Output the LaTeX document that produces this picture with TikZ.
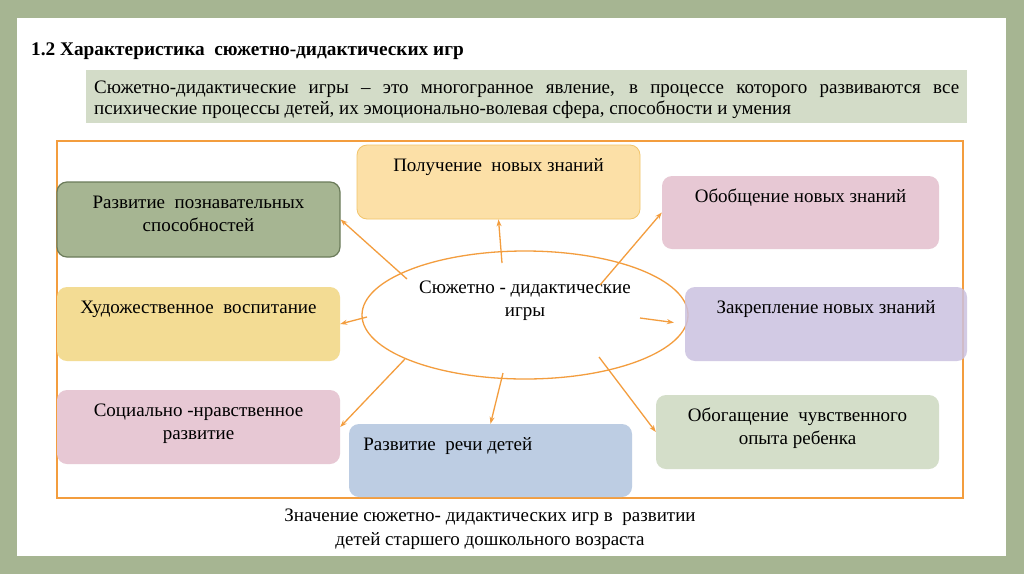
\documentclass[tikz,border=0pt]{standalone}
\usepackage{fontspec}
\setmainfont{Liberation Serif}
\usetikzlibrary{arrows.meta, calc, positioning, shapes.geometric}
\definecolor{Sage}{HTML}{A6B592}
\definecolor{SageDark}{HTML}{6B7B5A}
\definecolor{Mist}{HTML}{D3DCC8}
\definecolor{Tangerine}{HTML}{F39D3E}
\definecolor{Apricot}{HTML}{FCE0A7}
\definecolor{ApricotLine}{HTML}{F2C46A}
\definecolor{Rose}{HTML}{E7C8D4}
\definecolor{Butter}{HTML}{F3DC94}
\definecolor{Lilac}{HTML}{CBC1E0}
\definecolor{Sky}{HTML}{BDCDE3}
\definecolor{Pale}{HTML}{D4DEC9}

\begin{document}
\begin{tikzpicture}[x=1pt, y=-1pt,
    card/.style={rounded corners=10pt, minimum width=283pt, minimum height=74pt, inner sep=0pt},
    cardtext/.style={anchor=base, yshift=-27pt, align=center, font=\fontsize{19}{23}\selectfont},
    twolines/.style={yshift=-23pt},
    spoke/.style={Tangerine, line width=1.3pt, -{Stealth[length=7pt, width=5pt]}}]
    \useasboundingbox (0,0) rectangle (1024,574);
    \fill[Sage] (0,0) rectangle (1024,574);
    \fill[white] (17,18) rectangle (1006,556);

    % heading and introduction
    \node[anchor=base west, inner sep=0pt, font=\bfseries\fontsize{19.3}{22}\selectfont] (title) at (31,55)
        {1.2 Характеристика\ \ сюжетно-дидактических игр};
    \fill[Mist] (86,70) rectangle (967,123);
    \node[anchor=base west, inner sep=0pt, text width=865pt, align=justify,
        font=\fontsize{19}{21}\selectfont] (intro) at (94,93)
        {\hyphenpenalty=10000 Сюжетно-дидактические игры – это многогранное явление, в процессе которого развиваются все\linebreak
        психические процессы детей, их эмоционально-волевая сфера, способности и умения};

    % frame
    \draw[Tangerine, line width=1.2pt] (57,141) rectangle (963,498);

    % centre
    \node[ellipse, draw=Tangerine, line width=1.3pt, minimum width=326pt, minimum height=128pt,
        label={[cardtext, yshift=-39pt]north:{Сюжетно - дидактические\\игры}}] (game) at (525,315) {};

    % outcomes
    \node[card, fill=Apricot, draw=ApricotLine, line width=0.8pt,
        label={[cardtext]north:{Получение\ \ новых знаний}}] (gain) at (498.5,182) {};
    \node[card, fill=Sage, draw=SageDark, line width=1.2pt, minimum height=75pt,
        label={[cardtext, twolines]north:{Развитие\ \ познавательных\\способностей}}] (mind) at (198.5,219.5) {};
    \node[card, fill=Rose, minimum width=277pt, minimum height=73pt,
        label={[cardtext]north:{Обобщение новых знаний}}] (sum) at (800.5,212.5) {};
    \node[card, fill=Butter,
        label={[cardtext]north:{Художественное\ \ воспитание}}] (art) at (198.5,324) {};
    \node[card, fill=Lilac, fill opacity=0.85, text opacity=1, minimum width=282pt,
        label={[cardtext]north:{Закрепление новых знаний}}] (fix) at (826,324) {};
    \node[card, fill=Rose,
        label={[cardtext, twolines]north:{Социально -нравственное\\развитие}}] (moral) at (198.5,427) {};
    \node[card, fill=Sky, minimum height=73pt,
        label={[cardtext, anchor=base west, xshift=11pt]north west:{Развитие\ \ речи детей}}] (speech) at (490.5,460.5) {};
    \node[card, fill=Pale,
        label={[cardtext, twolines]north:{Обогащение\ \ чувственного\\опыта ребенка}}] (sense) at (797.5,432) {};

    % spokes
    \draw[spoke] ($(game)+(-118,-36)$) -- (mind.east);
    \draw[spoke] ($(game)+(-23,-52)$) -- (gain.south);
    \draw[spoke] ($(game)+(75,-30)$) -- (sum.west);
    \draw[spoke] ($(game)+(-158,2)$) -- (art.east);
    \draw[spoke, shorten >=11pt] ($(game)+(115,3)$) -- (fix.west);
    \draw[spoke] ($(game)+(-120,44)$) -- (moral.east);
    \draw[spoke] ($(game)+(-22,58)$) -- (speech.north);
    \draw[spoke] ($(game)+(74,42)$) -- (sense.west);

    % caption
    \node[anchor=base, inner sep=0pt, align=center, font=\fontsize{19}{24}\selectfont] (caption) at (490,545)
        {Значение сюжетно- дидактических игр в\ \ развитии\\детей старшего дошкольного возраста};
\end{tikzpicture}
\end{document}
